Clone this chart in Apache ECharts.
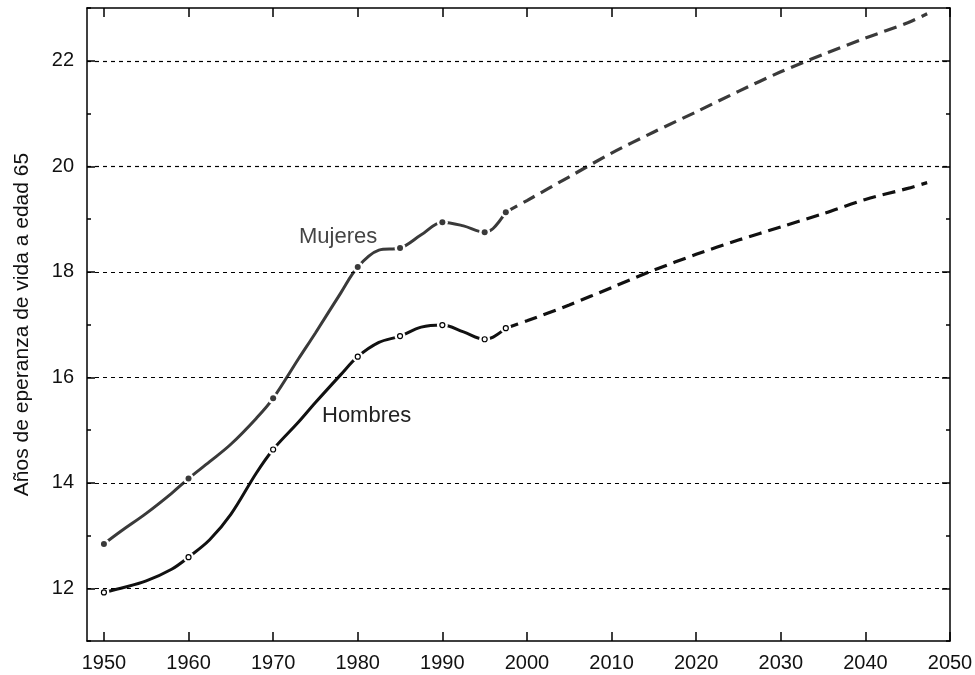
<!DOCTYPE html>
<html>
<head>
<meta charset="utf-8">
<script src="https://cdn.jsdelivr.net/npm/echarts@6/dist/echarts.min.js"></script>
<style>
html,body{margin:0;padding:0;background:#fff;}
#chart{width:975px;height:675px;}
</style>
</head>
<body>
<div id="chart"></div>
<script>
// ---- data ----
const histYears = [1950, 1952, 1955, 1958, 1960, 1962.5, 1965, 1968, 1970, 1973, 1975, 1978, 1980, 1982.5, 1985, 1987.5, 1990, 1992.5, 1995, 1996, 1997.5];
const mujeresHist = [12.84, 13.08, 13.42, 13.80, 14.08, 14.40, 14.73, 15.22, 15.60, 16.35, 16.84, 17.60, 18.09, 18.41, 18.45, 18.70, 18.94, 18.87, 18.75, 18.82, 19.13];
const hombresHist = [11.92, 12.00, 12.14, 12.36, 12.59, 12.92, 13.40, 14.18, 14.63, 15.15, 15.52, 16.05, 16.39, 16.66, 16.78, 16.95, 16.99, 16.86, 16.72, 16.76, 16.93];

const projYears = [1997.5, 2000, 2005, 2010, 2015, 2020, 2025, 2030, 2035, 2040, 2045, 2047.3];
const mujeresProj = [19.13, 19.35, 19.80, 20.25, 20.65, 21.03, 21.42, 21.79, 22.12, 22.43, 22.72, 22.89];
const hombresProj = [16.93, 17.07, 17.37, 17.70, 18.03, 18.33, 18.60, 18.85, 19.10, 19.37, 19.58, 19.69];

const markerYears = [1950, 1960, 1970, 1980, 1985, 1990, 1995, 1997.5];

const xTicks = [1950, 1960, 1970, 1980, 1990, 2000, 2010, 2020, 2030, 2040, 2050];
const yMajor = [12, 14, 16, 18, 20, 22];

const yAxisTitle = 'Años de eperanza de vida a edad 65';
const labelMujeres = 'Mujeres';
const labelHombres = 'Hombres';

// ---- helpers ----
const pairs = (xs, ys) => xs.map((x, i) => [x, ys[i]]);
const markersFrom = (xs, ys) => markerYears.map(y => [y, ys[xs.indexOf(y)]]);

const FONT = 'Liberation Sans, Arial, sans-serif';
const colM = '#3a3a3a';
const colH = '#111111';

const chart = echarts.init(document.getElementById('chart'), null, {renderer: 'canvas'});

const gridPos = {left: 87, right: 25, top: 8, bottom: 34, outerBoundsMode: 'none'};

const option = {
  animation: false,
  backgroundColor: '#fff',
  grid: [Object.assign({}, gridPos), Object.assign({}, gridPos)],
  xAxis: [
    {
      type: 'value', gridIndex: 0, position: 'bottom', min: 1948, max: 2050,
      axisLine: {show: true, lineStyle: {color: '#000', width: 1.5}},
      axisTick: {show: true, inside: true, length: 9, customValues: xTicks, lineStyle: {color: '#000', width: 1.5}},
      axisLabel: {show: true, customValues: xTicks, fontSize: 20, color: '#111', fontFamily: FONT, margin: 12,
        formatter: v => String(v)},
      splitLine: {show: false}
    },
    {
      type: 'value', gridIndex: 0, position: 'top', min: 1948, max: 2050,
      axisLine: {show: true, lineStyle: {color: '#000', width: 1.5}},
      axisTick: {show: true, inside: true, length: 9, customValues: xTicks, lineStyle: {color: '#000', width: 1.5}},
      axisLabel: {show: false},
      splitLine: {show: false}
    },
    {
      type: 'value', gridIndex: 1, position: 'bottom', min: 1948, max: 2050, show: false
    }
  ],
  yAxis: [
    {
      type: 'value', gridIndex: 0, position: 'left', min: 11, max: 23, interval: 1,
      name: yAxisTitle, nameLocation: 'middle', nameGap: 54,
      nameTextStyle: {fontSize: 21, color: '#111', fontFamily: FONT},
      axisLine: {show: true, lineStyle: {color: '#000', width: 1.5}},
      axisTick: {show: true, inside: true, length: 4, lineStyle: {color: '#000', width: 1.5}},
      axisLabel: {show: true, fontSize: 20, color: '#111', fontFamily: FONT, margin: 13,
        formatter: v => (v % 2 === 0 ? String(v) : '')},
      splitLine: {show: false}
    },
    {
      type: 'value', gridIndex: 0, position: 'right', min: 11, max: 23, interval: 1,
      axisLine: {show: true, lineStyle: {color: '#000', width: 1.5}},
      axisTick: {show: true, inside: true, length: 4, lineStyle: {color: '#000', width: 1.5}},
      axisLabel: {show: false},
      splitLine: {show: false}
    },
    {
      type: 'value', gridIndex: 1, position: 'left', min: 11, max: 23, interval: 1,
      axisLine: {show: false},
      axisTick: {show: true, inside: true, length: 8, customValues: yMajor, lineStyle: {color: '#000', width: 1.5}},
      axisLabel: {show: false},
      splitLine: {show: false}
    },
    {
      type: 'value', gridIndex: 1, position: 'right', min: 11, max: 23, interval: 1,
      axisLine: {show: false},
      axisTick: {show: true, inside: true, length: 8, customValues: yMajor, lineStyle: {color: '#000', width: 1.5}},
      axisLabel: {show: false},
      splitLine: {show: false}
    }
  ],
  series: [
    // gridlines
    {
      type: 'line', xAxisIndex: 0, yAxisIndex: 0, data: [], z: 1, silent: true,
      markLine: {
        silent: true, symbol: ['none', 'none'], label: {show: false},
        lineStyle: {color: '#000', width: 1.2, type: [4, 4]},
        data: yMajor.map(v => ({yAxis: v}))
      }
    },
    // historical solid lines
    {
      name: 'Mujeres', type: 'line', xAxisIndex: 0, yAxisIndex: 0, z: 2,
      data: pairs(histYears, mujeresHist), smooth: 0.35,
      showSymbol: false, symbol: 'none',
      lineStyle: {color: colM, width: 3}
    },
    {
      name: 'Hombres', type: 'line', xAxisIndex: 0, yAxisIndex: 0, z: 2,
      data: pairs(histYears, hombresHist), smooth: 0.35,
      showSymbol: false, symbol: 'none',
      lineStyle: {color: colH, width: 3}
    },
    // projections dashed
    {
      name: 'Mujeres proy', type: 'line', xAxisIndex: 0, yAxisIndex: 0, z: 2,
      data: pairs(projYears, mujeresProj), smooth: 0.3,
      showSymbol: false, symbol: 'none',
      lineStyle: {color: colM, width: 3.2, type: [13, 7]}
    },
    {
      name: 'Hombres proy', type: 'line', xAxisIndex: 0, yAxisIndex: 0, z: 2,
      data: pairs(projYears, hombresProj), smooth: 0.3,
      showSymbol: false, symbol: 'none',
      lineStyle: {color: colH, width: 3.2, type: [13, 7]}
    },
    // white halos around markers (gap in lines)
    {
      type: 'scatter', xAxisIndex: 0, yAxisIndex: 0, z: 3, silent: true,
      data: markersFrom(histYears, mujeresHist).concat(markersFrom(histYears, hombresHist)),
      symbol: 'circle', symbolSize: 11,
      itemStyle: {color: '#fff', opacity: 1}
    },
    // markers
    {
      type: 'scatter', xAxisIndex: 0, yAxisIndex: 0, z: 4, silent: true,
      data: markersFrom(histYears, mujeresHist),
      symbol: 'circle', symbolSize: 6,
      itemStyle: {color: colM, opacity: 1}
    },
    {
      type: 'scatter', xAxisIndex: 0, yAxisIndex: 0, z: 4, silent: true,
      data: markersFrom(histYears, hombresHist),
      symbol: 'circle', symbolSize: 5,
      itemStyle: {color: '#fff', borderColor: '#000', borderWidth: 1.2, opacity: 1}
    }
  ],
  graphic: [
    {type: 'text', left: 299, top: 226, z: 10,
      style: {text: labelMujeres, fontSize: 22, fontFamily: FONT, fill: '#444'}},
    {type: 'text', left: 322, top: 405, z: 10,
      style: {text: labelHombres, fontSize: 22, fontFamily: FONT, fill: '#222'}}
  ]
};

chart.setOption(option);
</script>
</body>
</html>
